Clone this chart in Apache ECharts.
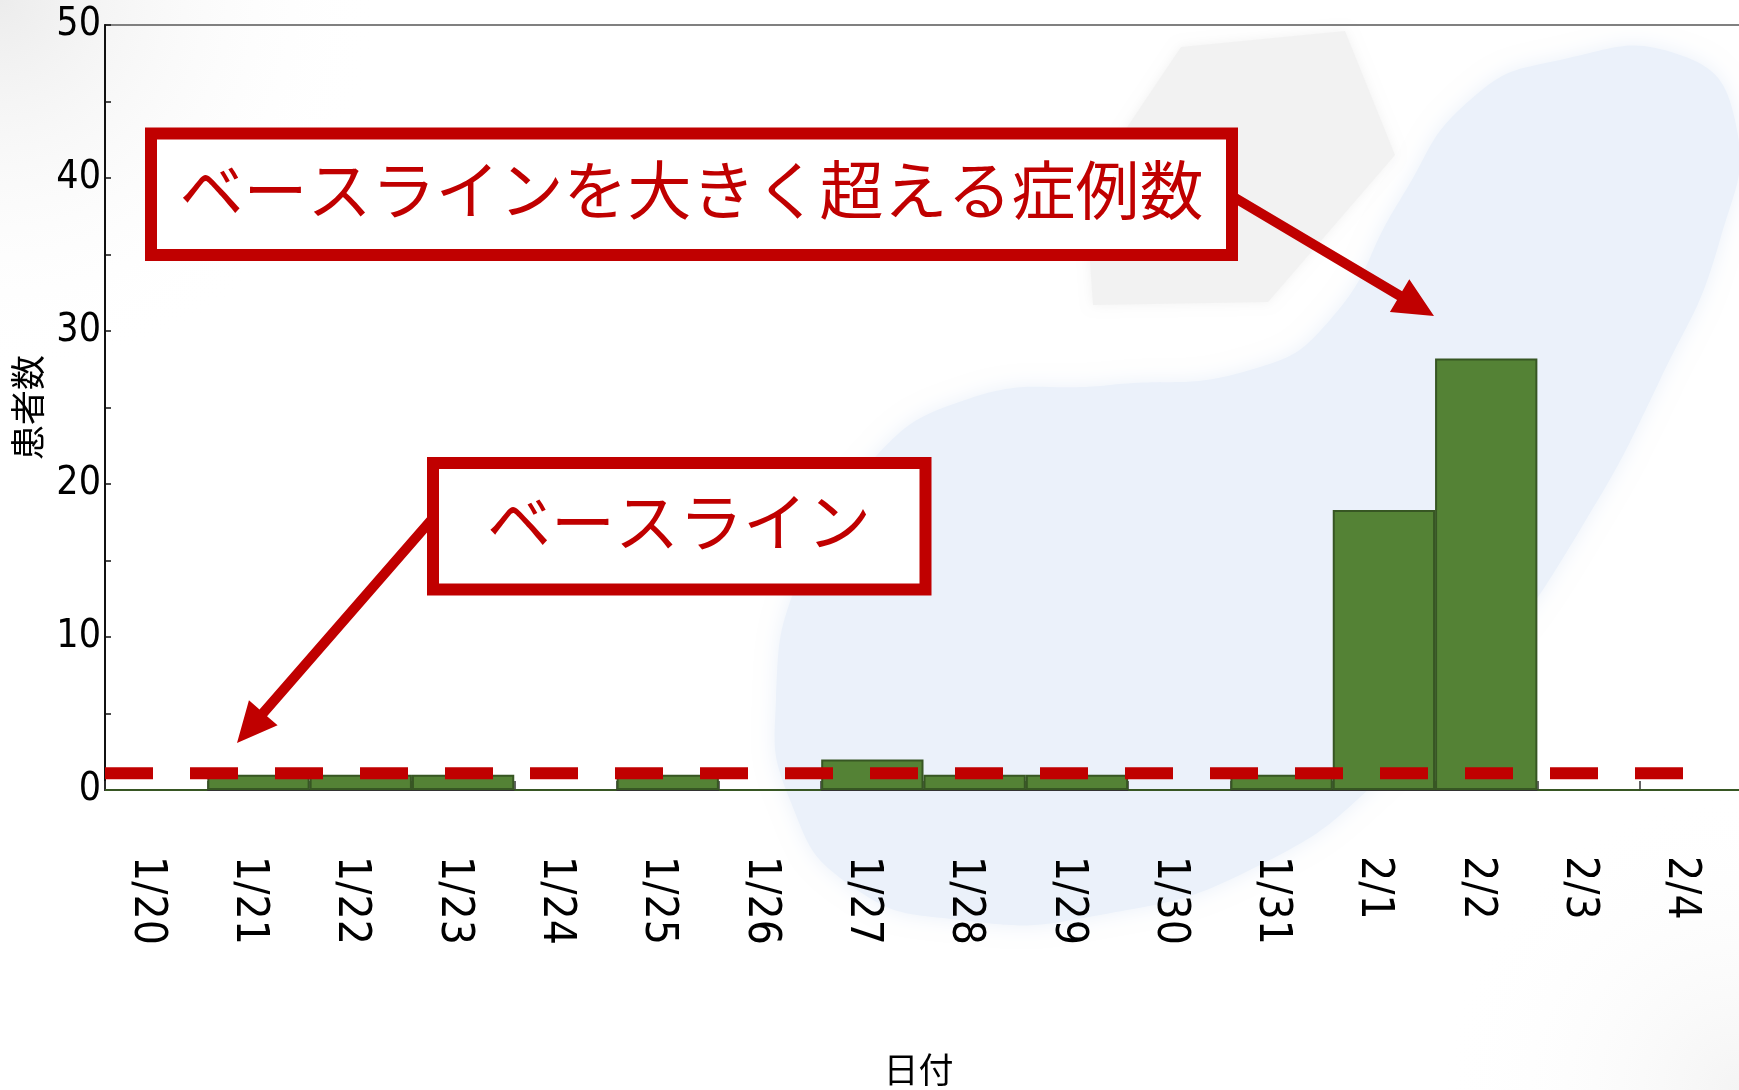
<!DOCTYPE html>
<html>
<head>
<meta charset="utf-8">
<script src="https://cdn.jsdelivr.net/npm/echarts@6/dist/echarts.min.js"></script>
<style>
  html, body { margin: 0; padding: 0; background: #ffffff; }
  #chart { width: 1739px; height: 1090px; }
</style>
</head>
<body>
<div id="chart"></div>
<script>
// Daily case counts
const dates = ['1/20', '1/21', '1/22', '1/23', '1/24', '1/25', '1/26', '1/27',
               '1/28', '1/29', '1/30', '1/31', '2/1', '2/2', '2/3', '2/4'];
const patients = [0, 1, 1, 1, 0, 1, 0, 2, 1, 1, 0, 1, 18.3, 28.2, 0, 0];

// Baseline level and the stretch of the date axis it covers (in day units)
const baselineLevel = 1.1;
const baselineSpan = [0, 15.5];

// Count axis range
const yMin = 0;
const yMax = 50;
const yStep = 10;

// Call-out texts
const calloutHigh = 'ベースラインを大きく超える症例数';
const calloutBase = 'ベースライン';

const RED = '#c00000';
const NUM_FONT = '"DejaVu Sans Condensed", "DejaVu Sans", sans-serif';
const JP_FONT = '"Noto Sans CJK JP", "Noto Sans CJK SC", sans-serif';

function arrowPoints(x1, y1, x2, y2, shaft, headLen, headW) {
  const dx = x2 - x1, dy = y2 - y1, L = Math.hypot(dx, dy);
  const ux = dx / L, uy = dy / L, nx = -uy, ny = ux;
  const bx = x2 - ux * headLen, by = y2 - uy * headLen;
  return [
    [x1 + nx * shaft / 2, y1 + ny * shaft / 2],
    [bx + nx * shaft / 2, by + ny * shaft / 2],
    [bx + nx * headW / 2, by + ny * headW / 2],
    [x2, y2],
    [bx - nx * headW / 2, by - ny * headW / 2],
    [bx - nx * shaft / 2, by - ny * shaft / 2],
    [x1 - nx * shaft / 2, y1 - ny * shaft / 2]
  ];
}

const chart = echarts.init(document.getElementById('chart'), null, { renderer: 'canvas' });

const option = {
  backgroundColor: '#ffffff',
  animation: false,
  grid: {
    left: 105, top: 25, right: -3, bottom: 300,
    containLabel: false,
    outerBoundsMode: 'none',
    show: true, borderColor: '#808080', borderWidth: 2,
    backgroundColor: 'transparent'
  },
  xAxis: [
    {
      type: 'category',
      data: dates,
      boundaryGap: true,
      name: '日付',
      nameLocation: 'middle',
      nameGap: 262,
      nameTextStyle: { fontFamily: JP_FONT, fontSize: 35, color: '#000', padding: [0, 10, 0, 0] },
      axisLine: { show: true, lineStyle: { color: '#333333', width: 2 } },
      axisTick: { show: true, inside: true, length: 9, interval: 0, lineStyle: { color: '#333333', width: 1.5 } },
      axisLabel: {
        rotate: -90, margin: 66, interval: 0,
        verticalAlign: 'top', lineHeight: 20,
        fontFamily: NUM_FONT, fontSize: 44, color: '#000'
      },
      splitLine: { show: false }
    },
    {
      type: 'value',
      min: 0, max: dates.length,
      show: false
    }
  ],
  yAxis: {
    type: 'value',
    min: yMin, max: yMax, interval: yStep,
    name: '患者数',
    nameLocation: 'middle',
    nameRotate: 90,
    nameGap: 58,
    nameTextStyle: { fontFamily: JP_FONT, fontSize: 35, color: '#000' },
    axisLine: { show: true, lineStyle: { color: '#111111', width: 2 } },
    axisTick: { show: true, inside: true, length: 6, lineStyle: { color: '#111111', width: 1.5 } },
    minorTick: { show: true, splitNumber: 2, length: 6, lineStyle: { color: '#111111', width: 1.5 } },
    axisLabel: { margin: 4, fontFamily: NUM_FONT, fontSize: 39, color: '#000' },
    splitLine: { show: false }
  },
  series: [
    {
      name: '患者数',
      type: 'bar',
      xAxisIndex: 0,
      data: patients,
      barCategoryGap: '0%',
      itemStyle: { color: '#548235', borderColor: '#375623', borderWidth: 2 },
      z: 2
    },
    {
      name: 'ベースライン',
      type: 'line',
      xAxisIndex: 1,
      data: baselineSpan.map(d => [d, baselineLevel]),
      symbol: 'none',
      lineStyle: { color: RED, width: 12, type: [48, 37], cap: 'butt' },
      z: 5
    }
  ],
  graphic: [
    // soft page backdrop
    {
      type: 'rect', z: -100, silent: true,
      shape: { x: 0, y: 0, width: 1739, height: 1090 },
      style: {
        fill: new echarts.graphic.RadialGradient(0, 0, 380, [
          { offset: 0, color: '#ececec' },
          { offset: 1, color: 'rgba(255,255,255,0)' }
        ], true)
      }
    },
    {
      type: 'rect', z: -100, silent: true,
      shape: { x: 0, y: 0, width: 1739, height: 1090 },
      style: {
        fill: new echarts.graphic.RadialGradient(1739, 1090, 300, [
          { offset: 0, color: '#f4f4f4' },
          { offset: 1, color: 'rgba(255,255,255,0)' }
        ], true)
      }
    },
    {
      type: 'polygon', z: -99, silent: true,
      shape: { points: [[1181, 47], [1345, 31], [1395, 155], [1268, 302], [1093, 305], [1085, 190]] },
      style: { fill: '#f2f2f2', shadowBlur: 12, shadowColor: '#f2f2f2' }
    },
    {
      type: 'polygon', z: -98, silent: true,
      shape: {
        smooth: 0.5,
        points: [[776, 700], [800, 575], [865, 468], [965, 400], [1110, 385], [1250, 370],
                 [1330, 320], [1400, 200], [1470, 100], [1560, 60], [1680, 55], [1735, 120],
                 [1720, 240], [1660, 380], [1580, 530], [1490, 660], [1390, 770], [1260, 865],
                 [1100, 915], [960, 920], [850, 885], [790, 800]]
      },
      style: { fill: '#ebf1fa', shadowBlur: 20, shadowColor: '#ebf1fa' }
    },
    // arrows
    {
      type: 'polygon', z: 100, silent: true,
      shape: { points: arrowPoints(1225, 192, 1434, 316, 10, 40, 38) },
      style: { fill: RED }
    },
    {
      type: 'polygon', z: 100, silent: true,
      shape: { points: arrowPoints(440, 510, 237, 743, 10, 40, 38) },
      style: { fill: RED }
    },
    // call-out boxes
    {
      type: 'rect', z: 101, silent: true,
      shape: { x: 151, y: 133.5, width: 1081, height: 121.5 },
      style: { fill: '#ffffff', stroke: RED, lineWidth: 12 }
    },
    {
      type: 'text', z: 102, silent: true,
      x: 691.5, y: 190,
      style: {
        text: calloutHigh, fill: RED, fontSize: 64, fontFamily: JP_FONT,
        align: 'center', verticalAlign: 'middle'
      }
    },
    {
      type: 'rect', z: 101, silent: true,
      shape: { x: 433, y: 463, width: 492.5, height: 126.5 },
      style: { fill: '#ffffff', stroke: RED, lineWidth: 12 }
    },
    {
      type: 'text', z: 102, silent: true,
      x: 679, y: 522,
      style: {
        text: calloutBase, fill: RED, fontSize: 64, fontFamily: JP_FONT,
        align: 'center', verticalAlign: 'middle'
      }
    }
  ]
};

chart.setOption(option);
</script>
</body>
</html>
